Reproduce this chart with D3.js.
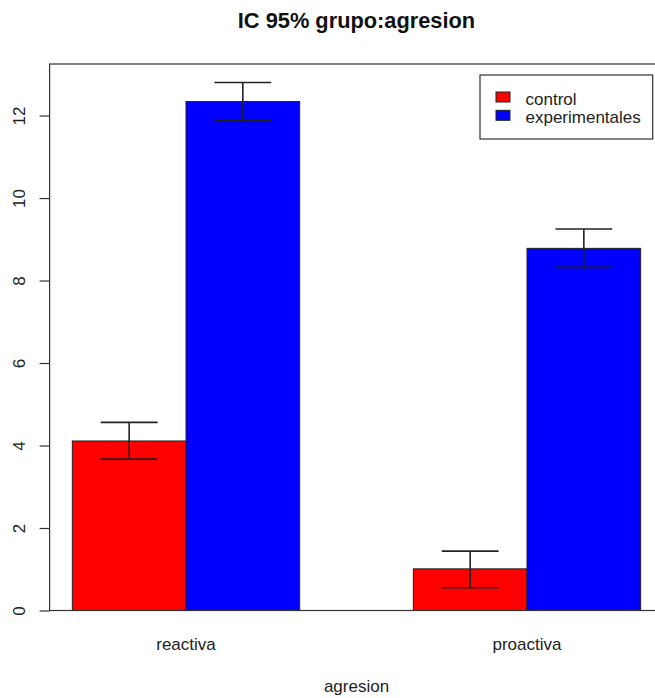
<!DOCTYPE html>
<html>
<head>
<meta charset="utf-8">
<script src="https://cdn.jsdelivr.net/npm/d3@7"></script>
<style>
  html, body { margin: 0; padding: 0; background: #fff; }
  svg { display: block; font-family: "Liberation Sans", Arial, sans-serif; }
</style>
</head>
<body>
<svg id="chart" width="655" height="698"></svg>
<script>
// Grouped means with 95% confidence intervals
const categories = ["reactiva", "proactiva"];
const seriesNames = ["control", "experimentales"];
const seriesColors = ["#FF0000", "#0000FF"];
const controlMean = [4.11, 1.01];
const controlLow = [3.67, 0.55];
const controlHigh = [4.56, 1.44];
const expMean = [12.34, 8.78];
const expLow = [11.88, 8.32];
const expHigh = [12.80, 9.25];
const yTicks = [0, 2, 4, 6, 8, 10, 12];

const means = [controlMean, expMean];
const lows = [controlLow, expLow];
const highs = [controlHigh, expHigh];

const svg = d3.select("#chart");

// Plot region (bar units: each bar is 1 wide, groups separated by 1)
const plotLeft = 49.6, plotRight = 663.4, plotTop = 64, plotBottom = 610.5;
const x = d3.scaleLinear().domain([0.8, 6.2]).range([plotLeft, plotRight]);
const y = d3.scaleLinear().domain([0, 13.25]).range([plotBottom, plotTop]);

// Bar positions: group g starts at 1 + g*3, series s offset by s
const bars = [];
categories.forEach((c, g) => {
  seriesNames.forEach((s, si) => {
    const x0 = 1 + g * 3 + si;
    bars.push({ g, si, x0, x1: x0 + 1, v: means[si][g], lo: lows[si][g], hi: highs[si][g] });
  });
});

// Bars
svg.append("g").selectAll("rect").data(bars).join("rect")
  .attr("x", d => x(d.x0))
  .attr("width", d => x(d.x1) - x(d.x0))
  .attr("y", d => y(d.v))
  .attr("height", d => y(0) - y(d.v))
  .attr("fill", d => seriesColors[d.si])
  .attr("stroke", "#222")
  .attr("stroke-width", 1);

// Error bars
const eb = svg.append("g").attr("stroke", "#222").attr("stroke-width", 1.6).attr("fill", "none");
bars.forEach(d => {
  const cx = x(d.x0 + 0.5);
  const cw = x(d.x0 + 0.25) - x(d.x0);
  eb.append("line").attr("x1", cx).attr("x2", cx).attr("y1", y(d.hi)).attr("y2", y(d.lo));
  eb.append("line").attr("x1", cx - cw).attr("x2", cx + cw).attr("y1", y(d.hi)).attr("y2", y(d.hi));
  eb.append("line").attr("x1", cx - cw).attr("x2", cx + cw).attr("y1", y(d.lo)).attr("y2", y(d.lo));
});

// Plot box
svg.append("rect")
  .attr("x", plotLeft).attr("y", plotTop)
  .attr("width", plotRight - plotLeft).attr("height", plotBottom - plotTop)
  .attr("fill", "none").attr("stroke", "#333").attr("stroke-width", 1.2);

// Y axis with rotated labels
const yAxis = d3.axisLeft(y).tickValues(yTicks).tickSize(10).tickFormat(d3.format("d"));
const ya = svg.append("g").attr("transform", `translate(${plotLeft},0)`).call(yAxis);
ya.select(".domain").remove();
ya.selectAll(".tick line").attr("stroke", "#333").attr("stroke-width", 1.2);
ya.selectAll(".tick text")
  .attr("x", 0).attr("dy", null)
  .attr("transform", "translate(-25,0) rotate(-90)")
  .attr("text-anchor", "middle")
  .attr("fill", "#222")
  .style("font-size", "17px");

// Category labels
svg.append("g").selectAll("text").data(categories).join("text")
  .attr("x", (c, g) => x(1 + g * 3 + 1))
  .attr("y", 650)
  .attr("text-anchor", "middle")
  .attr("fill", "#222")
  .style("font-size", "17px")
  .text(d => d);

// Axis title and main title
const midX = (plotLeft + plotRight) / 2;
svg.append("text").attr("x", midX).attr("y", 692).attr("text-anchor", "middle")
  .attr("fill", "#222").style("font-size", "17px").text("agresion");
svg.append("text").attr("x", midX).attr("y", 28).attr("text-anchor", "middle")
  .attr("fill", "#111").style("font-size", "21.8px").style("font-weight", "bold")
  .text("IC 95% grupo:agresion");

// Legend
const lg = svg.append("g");
lg.append("rect").attr("x", 480).attr("y", 75).attr("width", 172.7).attr("height", 64)
  .attr("fill", "#fff").attr("stroke", "#333").attr("stroke-width", 1.2);
seriesNames.forEach((s, i) => {
  const yy = 92 + i * 18.3;
  lg.append("rect").attr("x", 496).attr("y", yy).attr("width", 14).attr("height", 10)
    .attr("fill", seriesColors[i]).attr("stroke", "#222").attr("stroke-width", 1);
  lg.append("text").attr("x", 525.5).attr("y", yy + 13).attr("fill", "#222")
    .style("font-size", "17px").text(s);
});
</script>
</body>
</html>
